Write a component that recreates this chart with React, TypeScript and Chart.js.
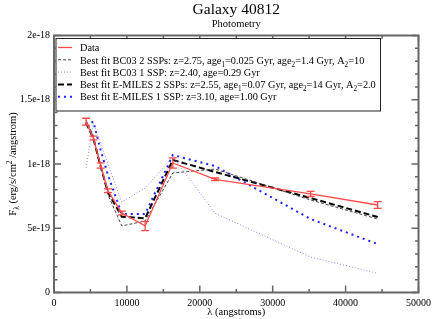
import React, { useEffect, useRef } from 'react';
import { Chart, registerables } from 'chart.js';

Chart.register(...registerables);

const wavelengths = [4400, 5400, 6400, 7400, 9300, 12500, 16300, 22100, 35200, 44400];
const dataFlux = [1.329e-18, 1.202e-18, 0.988e-18, 0.792e-18, 0.619e-18, 0.518e-18, 1.008e-18, 0.881e-18, 0.767e-18, 0.681e-18];
const dataErr = [0.027e-18, 0.015e-18, 0.02e-18, 0.015e-18, 0.015e-18, 0.036e-18, 0.04e-18, 0.01e-18, 0.02e-18, 0.026e-18];
const bc03TwoSSP = [1.342e-18, 1.22e-18, 0.99e-18, 0.76e-18, 0.518e-18, 0.556e-18, 0.93e-18, 0.961e-18, 0.72e-18, 0.572e-18];
const bc03OneSSP = [0.969e-18, 1.32e-18, 1.155e-18, 1.0e-18, 0.704e-18, 0.811e-18, 1.057e-18, 0.616e-18, 0.276e-18, 0.149e-18];
const emilesTwoSSP = [1.32e-18, 1.2e-18, 0.98e-18, 0.78e-18, 0.59e-18, 0.577e-18, 1.031e-18, 0.938e-18, 0.735e-18, 0.588e-18];
const emilesOneSSP = [1.3e-18, 1.33e-18, 1.11e-18, 0.914e-18, 0.611e-18, 0.611e-18, 1.07e-18, 0.984e-18, 0.572e-18, 0.377e-18];

const xMajorTicks = [0, 10000, 20000, 30000, 40000, 50000];
const xMinorTicks = [5000, 15000, 25000, 35000, 45000];
const yMajorTicks = [0, 5e-19, 1e-18, 1.5e-18, 2e-18];
const yTickLabels = ['0', '5e-19', '1e-18', '1.5e-18', '2e-18'];
const yMinorTicks = [1e-19, 2e-19, 3e-19, 4e-19, 6e-19, 7e-19, 8e-19, 9e-19, 1.1e-18, 1.2e-18, 1.3e-18, 1.4e-18, 1.6e-18, 1.7e-18, 1.8e-18, 1.9e-18];

type Seg = { t: string; sub?: boolean; sup?: boolean };

const legendEntries: Seg[][] = [
  [{ t: 'Data' }],
  [{ t: 'Best fit BC03 2 SSPs: z=2.75, age' }, { t: '1', sub: true }, { t: '=0.025 Gyr, age' }, { t: '2', sub: true }, { t: '=1.4 Gyr, A' }, { t: '2', sub: true }, { t: '=10' }],
  [{ t: 'Best fit BC03 1 SSP: z=2.40, age=0.29 Gyr' }],
  [{ t: 'Best fit E-MILES 2 SSPs: z=2.55, age' }, { t: '1', sub: true }, { t: '=0.07 Gyr, age' }, { t: '2', sub: true }, { t: '=14 Gyr, A' }, { t: '2', sub: true }, { t: '=2.0' }],
  [{ t: 'Best fit E-MILES 1 SSP: z=3.10, age=1.00 Gyr' }],
];

const titleText = 'Galaxy 40812';
const subtitleText = 'Photometry';
const xTitle = 'λ (angstroms)';
const yTitle: Seg[] = [{ t: 'F' }, { t: 'λ', sub: true }, { t: ' (erg/s/cm' }, { t: '2', sup: true }, { t: ' /angstrom)' }];

const SERIF = '"Liberation Serif", "DejaVu Serif", serif';

function richWidth(ctx: CanvasRenderingContext2D, segs: Seg[], size: number) {
  let w = 0;
  for (const s of segs) {
    ctx.font = `${s.sub || s.sup ? size * 0.7 : size}px ${SERIF}`;
    w += ctx.measureText(s.t).width;
  }
  return w;
}

function drawRich(ctx: CanvasRenderingContext2D, segs: Seg[], x: number, y: number, size: number) {
  let cx = x;
  ctx.textBaseline = 'alphabetic';
  ctx.textAlign = 'left';
  for (const s of segs) {
    const small = s.sub || s.sup;
    ctx.font = `${small ? size * 0.7 : size}px ${SERIF}`;
    const dy = s.sub ? size * 0.3 : s.sup ? -size * 0.4 : 0;
    ctx.fillText(s.t, cx, y + dy);
    cx += ctx.measureText(s.t).width;
  }
}

const decorPlugin = {
  id: 'decor',
  beforeDatasetsDraw(chart: any) {
    const { ctx, chartArea: a, scales } = chart;
    const xs = scales.x;
    const ys = scales.y;
    ctx.save();
    ctx.strokeStyle = '#666';
    ctx.lineWidth = 1.5;
    ctx.beginPath();
    const tick = (v: number, len: number, axis: 'x' | 'y') => {
      if (axis === 'x') {
        const px = xs.getPixelForValue(v);
        ctx.moveTo(px, a.bottom);
        ctx.lineTo(px, a.bottom - len);
        ctx.moveTo(px, a.top);
        ctx.lineTo(px, a.top + len);
      } else {
        const py = ys.getPixelForValue(v);
        ctx.moveTo(a.left, py);
        ctx.lineTo(a.left + len, py);
        ctx.moveTo(a.right, py);
        ctx.lineTo(a.right - len, py);
      }
    };
    xMajorTicks.forEach((v) => tick(v, 7, 'x'));
    xMinorTicks.forEach((v) => tick(v, 3.5, 'x'));
    yMajorTicks.forEach((v) => tick(v, 7, 'y'));
    yMinorTicks.forEach((v) => tick(v, 3.5, 'y'));
    ctx.stroke();
    ctx.lineWidth = 2;
    ctx.strokeRect(a.left, a.top, a.right - a.left, a.bottom - a.top);
    ctx.restore();
  },
  afterDatasetsDraw(chart: any) {
    const { ctx, scales } = chart;
    const xs = scales.x;
    const ys = scales.y;
    ctx.save();
    ctx.strokeStyle = '#ff4a4a';
    ctx.lineWidth = 1.3;
    ctx.beginPath();
    wavelengths.forEach((w, i) => {
      const px = xs.getPixelForValue(w);
      const top = ys.getPixelForValue(dataFlux[i] + dataErr[i]);
      const bot = ys.getPixelForValue(dataFlux[i] - dataErr[i]);
      ctx.moveTo(px, top);
      ctx.lineTo(px, bot);
      ctx.moveTo(px - 4, top);
      ctx.lineTo(px + 4, top);
      ctx.moveTo(px - 4, bot);
      ctx.lineTo(px + 4, bot);
    });
    ctx.stroke();
    ctx.restore();
  },
  afterDraw(chart: any) {
    const { ctx, chartArea: a } = chart;
    ctx.save();
    // titles
    const cx = (a.left + a.right) / 2;
    ctx.fillStyle = '#000';
    ctx.textAlign = 'center';
    ctx.textBaseline = 'alphabetic';
    ctx.font = `15.5px ${SERIF}`;
    ctx.fillText(titleText, cx, 14);
    ctx.font = `10.5px ${SERIF}`;
    ctx.fillText(subtitleText, cx, 27);
    ctx.font = `10.5px ${SERIF}`;
    ctx.fillText(xTitle, cx, 315);
    // y title
    ctx.save();
    ctx.translate(16, (a.top + a.bottom) / 2);
    ctx.rotate(-Math.PI / 2);
    const yw = richWidth(ctx, yTitle, 10.5);
    drawRich(ctx, yTitle, -yw / 2, 0, 10.5);
    ctx.restore();

    // legend
    const bx = a.left + 1.5;
    const by = a.top + 2.5;
    const bw = 380 - bx;
    const bh = 110.5 - by;
    ctx.fillStyle = '#fff';
    ctx.fillRect(bx, by, bw, bh);
    ctx.strokeStyle = '#222';
    ctx.lineWidth = 1;
    ctx.strokeRect(bx + 0.5, by + 0.5, bw, bh);
    const dsets = chart.data.datasets;
    legendEntries.forEach((segs, i) => {
      const ry = 47.5 + i * 12.3;
      const ds = dsets[i];
      ctx.save();
      ctx.strokeStyle = ds.borderColor;
      ctx.lineWidth = ds.borderWidth;
      ctx.setLineDash(ds.borderDash || []);
      ctx.beginPath();
      ctx.moveTo(58, ry);
      ctx.lineTo(72, ry);
      ctx.stroke();
      ctx.restore();
      ctx.fillStyle = '#000';
      drawRich(ctx, segs, 80, ry + 3.7, 10.3);
    });
    ctx.restore();
  },
};

export default function App() {
  const canvasRef = useRef<HTMLCanvasElement | null>(null);
  useEffect(() => {
    const canvas = canvasRef.current;
    if (!canvas) return;
    const mk = (arr: number[]) => wavelengths.map((w, i) => ({ x: w, y: arr[i] }));
    const chart = new Chart(canvas, {
      type: 'line',
      data: {
        datasets: [
          { label: 'Data', data: mk(dataFlux), borderColor: '#ff4a4a', borderWidth: 1.3, pointRadius: 0, fill: false },
          { label: 'Best fit BC03 2 SSPs', data: mk(bc03TwoSSP), borderColor: '#444', borderWidth: 1, borderDash: [3, 2], pointRadius: 0, fill: false },
          { label: 'Best fit BC03 1 SSP', data: mk(bc03OneSSP), borderColor: '#8a8aff', borderWidth: 1, borderDash: [1, 2], pointRadius: 0, fill: false },
          { label: 'Best fit E-MILES 2 SSPs', data: mk(emilesTwoSSP), borderColor: '#000', borderWidth: 2, borderDash: [6, 3], pointRadius: 0, fill: false },
          { label: 'Best fit E-MILES 1 SSP', data: mk(emilesOneSSP), borderColor: '#2020ff', borderWidth: 2, borderDash: [2, 4], pointRadius: 0, fill: false },
        ] as any,
      },
      options: {
        responsive: false,
        animation: false,
        devicePixelRatio: 1,
        layout: { padding: { top: 35.5, right: 15, left: 0, bottom: 0 } },
        plugins: { legend: { display: false }, title: { display: false }, tooltip: { enabled: false } },
        elements: { line: { tension: 0 } },
        scales: {
          x: {
            type: 'linear',
            min: 0,
            max: 50000,
            grid: { display: false, drawTicks: false },
            border: { display: false },
            afterFit: (s: any) => { s.height = 26.5; },
            afterBuildTicks: (s: any) => { s.ticks = xMajorTicks.map((v) => ({ value: v })); },
            ticks: {
              color: '#000',
              padding: 5,
              maxRotation: 0,
              font: { family: SERIF, size: 10 },
              callback: (v: any) => String(v),
            },
          },
          y: {
            type: 'linear',
            min: 0,
            max: 2e-18,
            grid: { display: false, drawTicks: false },
            border: { display: false },
            afterFit: (s: any) => { s.width = 54; },
            afterBuildTicks: (s: any) => { s.ticks = yMajorTicks.map((v) => ({ value: v })); },
            ticks: {
              color: '#000',
              padding: 4,
              font: { family: SERIF, size: 10 },
              callback: (v: any) => {
                const idx = yMajorTicks.findIndex((t) => Math.abs(t - v) < 1e-22);
                return idx >= 0 ? yTickLabels[idx] : '';
              },
            },
          },
        },
      },
      plugins: [decorPlugin],
    });
    return () => chart.destroy();
  }, []);
  return (
    <div style={{ position: 'fixed', left: 0, top: 0, width: 436, height: 319, background: '#fff' }}>
      <canvas ref={canvasRef} width={436} height={319} style={{ display: 'block', width: 436, height: 319 }} />
    </div>
  );
}
